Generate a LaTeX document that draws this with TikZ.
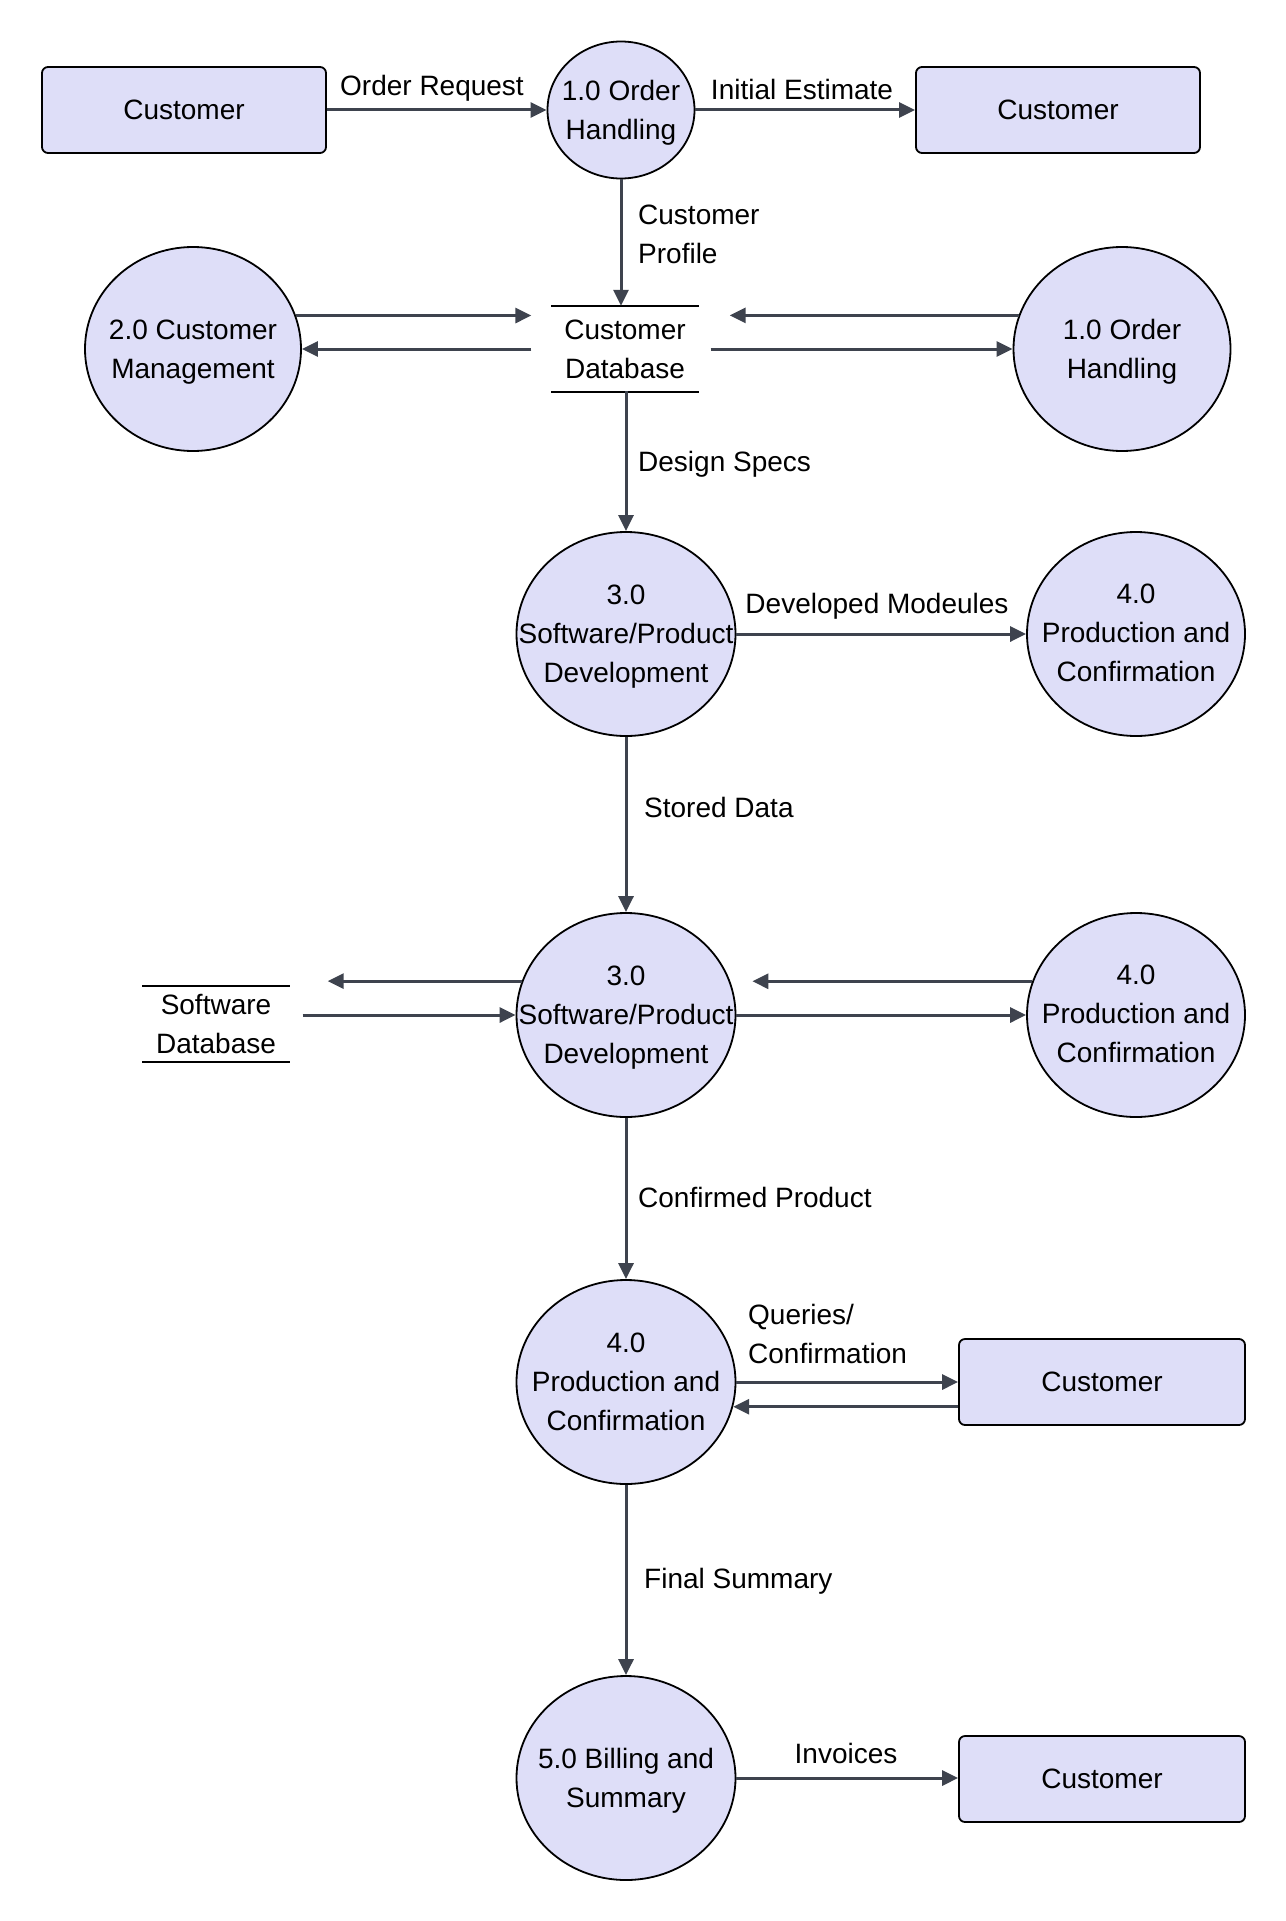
\documentclass[tikz,border=0pt]{standalone}
\usepackage{fontspec}
\setmainfont{Liberation Sans}
\usetikzlibrary{arrows.meta,shapes.geometric,calc}
\definecolor{lav}{RGB}{222,222,248}
\definecolor{arrc}{RGB}{62,67,78}
\begin{document}
\begin{tikzpicture}[x=1pt,y=-1pt, font=\fontsize{28}{39}\selectfont,
 ent/.style={draw=black,line width=1.8pt,fill=lav,rounded corners=6pt,minimum width=284pt,minimum height=86pt,inner sep=0pt},
 proc/.style={ellipse,draw=black,line width=1.8pt,fill=lav,inner sep=0pt,minimum width=219pt,minimum height=204pt},
 ptext/.style={align=center,inner sep=0pt,yshift=-3pt},
 store/.style={align=center,inner sep=0pt,minimum width=147pt},
 arr/.style={draw=arrc,line width=3pt,-{Triangle[length=16pt,width=15pt]}},
 lbl/.style={inner sep=0pt},
 dline/.style={draw=black,line width=2pt}]
\fill[white] (0,0) rectangle (1285,1921);
\useasboundingbox (0,0) rectangle (1285,1921);

% entities
\node[ent] (c1) at (184,110) {Customer};
\node[ent] (c2) at (1058,110) {Customer};
\node[ent,minimum width=286pt] (c3) at (1102,1382) {Customer};
\node[ent,minimum width=286pt] (c4) at (1102,1779) {Customer};

% processes
\node[proc,minimum width=147pt,minimum height=137pt] (p1) at (621,110) {};
\node[ptext] (t1) at (p1) {1.0 Order\\Handling};
\node[proc,minimum width=216pt] (p2) at (193,349) {};
\node[ptext] (t2) at (p2) {2.0 Customer\\Management};
\node[proc,minimum width=217pt] (p1b) at (1122,349) {};
\node[ptext] (t1b) at (p1b) {1.0 Order\\Handling};
\node[proc] (p3a) at (626,634) {};
\node[ptext] (t3a) at (p3a) {3.0\\Software/Product\\Development};
\node[proc,minimum width=218pt] (p4a) at (1136,634) {};
\node[ptext,yshift=4pt] (t4a) at (p4a) {4.0\\Production and\\Confirmation};
\node[proc] (p3b) at (626,1015) {};
\node[ptext] (t3b) at (p3b) {3.0\\Software/Product\\Development};
\node[proc,minimum width=218pt] (p4b) at (1136,1015) {};
\node[ptext,yshift=4pt] (t4b) at (p4b) {4.0\\Production and\\Confirmation};
\node[proc] (p4c) at (626,1382) {};
\node[ptext,yshift=3pt] (t4c) at (p4c) {4.0\\Production and\\Confirmation};
\node[proc] (p5) at (626,1778) {};
\node[ptext] (t5) at (p5) {5.0 Billing and\\Summary};

% data stores
\node[store,minimum height=86pt] (cdb) at (625,349) {Customer\\Database};
\draw[dline] (cdb.north west) -- (cdb.north east);
\draw[dline] (cdb.south west) -- (cdb.south east);
\node[store,minimum height=76pt] (sdb) at (216,1024) {Software\\Database};
\draw[dline] (sdb.north west) -- (sdb.north east);
\draw[dline] (sdb.south west) -- (sdb.south east);

% flows
\draw[arr] (c1.east) -- (p1.west);
\draw[arr] (p1.east) -- (c2.west);
\draw[arr] (p1.south) -- (p1.south |- cdb.north);
\draw[arr,shorten >=20pt] (p2.18) -- (p2.18 -| cdb.west);
\draw[arr,shorten <=20pt] (cdb.west) -- (p2.east);
\draw[arr,shorten >=31pt] (p1b.162) -- (p1b.162 -| cdb.east);
\draw[arr,shorten <=12pt] (cdb.east) -- (p1b.west);
\draw[arr] (cdb.south) -- (cdb.south -| p3a.north) -- (p3a.north);
\draw[arr] (p3a.east) -- (p4a.west);
\draw[arr] (p3a.south) -- (p3b.north);
\draw[arr,shorten >=38pt] (p3b.162) -- (p3b.162 -| sdb.east);
\draw[arr,shorten <=13pt] (p3b.west -| sdb.east) -- (p3b.west);
\draw[arr,shorten >=16pt] (p4b.162) -- (p4b.162 -| p3b.east);
\draw[arr] (p3b.east) -- (p4b.west);
\draw[arr] (p3b.south) -- (p4c.north);
\draw[arr] (p4c.east) -- (c3.west);
\draw[arr] (p4c.-13 -| c3.west) -- (p4c.-13);
\draw[arr] (p4c.south) -- (p5.north);
\draw[arr] (p5.east) -- (p5.east -| c4.west);

% flow labels
\node[lbl] (lOR) at (432,88) {Order Request};
\node[lbl] (lIE) at (802,89) {Initial Estimate};
\node[lbl,anchor=west,align=left] (lCP) at (638,234) {Customer\\Profile};
\node[lbl,anchor=west] (lDS) at (638,464) {Design Specs};
\node[lbl] (lDM) at (877,606) {Developed Modeules};
\node[lbl,anchor=west] (lSD) at (644,807) {Stored Data};
\node[lbl,anchor=west] (lCo) at (638,1197) {Confirmed Product};
\node[lbl,anchor=west,align=left] (lQC) at (748,1334) {Queries/\\Confirmation};
\node[lbl,anchor=west] (lFS) at (644,1581) {Final Summary};
\node[lbl] (lIn) at (846,1753) {Invoices};
\end{tikzpicture}
\end{document}
